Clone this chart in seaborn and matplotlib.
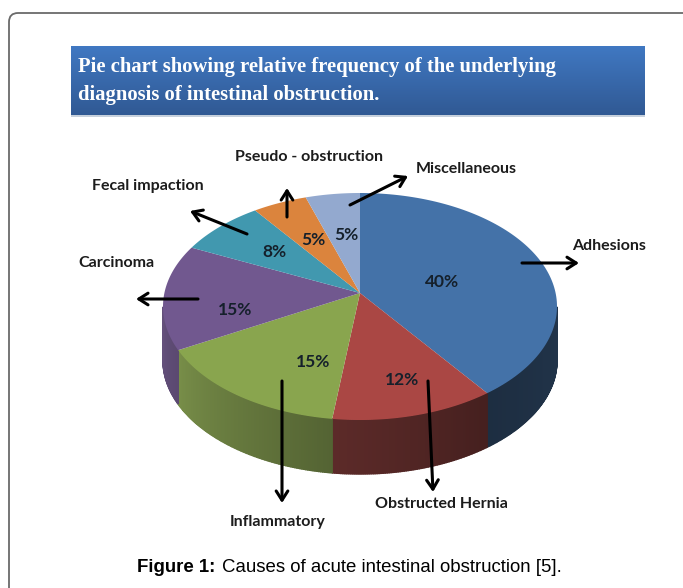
import numpy as np
import seaborn as sns
import matplotlib.pyplot as plt
from matplotlib.patches import FancyBboxPatch

# --- data ---
categories = ['Adhesions', 'Obstructed Hernia', 'Inflammatory', 'Carcinoma',
              'Fecal impaction', 'Pseudo - obstruction', 'Miscellaneous']
shares = [40, 12, 15, 15, 8, 5, 5]
slice_colors = ['#4472a8', '#aa4744', '#89a54e', '#71588f', '#4198af', '#db843d', '#93a9cf']

title_lines = ['Pie chart showing relative frequency of the underlying',
               'diagnosis of intestinal obstruction.']

# label positions in picture pixels
label_pos = [(609, 246), (441, 504), (278, 522), (116, 263), (148, 186), (309, 157), (466, 169)]
pct_pos = [(442, 282), (402, 380), (313, 362), (235, 310), (274, 252), (313, 240), (346, 235)]
arrow_from = [(522, 263), (428, 381), (282, 381), (198, 299), (247, 234), (287, 217), (350, 205)]
arrow_to = [(579, 263), (433, 492), (282, 503), (136, 299), (190, 211), (287, 188), (408, 176)]

# pie geometry, a tilted circle seen in perspective
cx, cy = 360, 293
rx, ry, persp = 195.6, 111.9, 0.119
depth = 54

sns.set_theme(style='white')
plt.rcParams['font.family'] = ['Lato', 'DejaVu Sans']

fig = plt.figure(figsize=(6.83, 5.88), dpi=100, facecolor='white')
ax = fig.add_axes([0, 0, 1, 1])


def rim(theta):
    # theta in degrees, clockwise from 12 o'clock
    t = np.radians(theta)
    w = 1 + persp * np.cos(t)
    return cx + rx * np.sin(t) / w, cy - ry * np.cos(t) / w


def side_shade(theta):
    return np.interp(theta, [97, 143.9, 144.1, 187.1, 187.3, 241, 241.2, 263],
                     [0.46, 0.40, 0.42, 0.56, 0.62, 0.88, 0.80, 0.88])


# frame of the page
ax.add_patch(FancyBboxPatch((9, 13), 720, 640, boxstyle='round,pad=0,rounding_size=9',
                            fc='white', ec='#6a6a6a', lw=1.3, zorder=1))

# title banner
grad = np.linspace(0, 1, 64).reshape(-1, 1, 1)
banner = (1 - grad) * np.array([0.25, 0.47, 0.76]) + grad * np.array([0.19, 0.35, 0.58])
ax.add_patch(plt.Rectangle((71, 49), 574, 68, fc='#c6d0dc', ec='none', zorder=1.5))
ax.imshow(banner, extent=(71, 645, 115, 46), aspect='auto', zorder=2)
for line, y in zip(title_lines, [67, 95]):
    ax.text(78, y, line, color='white', fontsize=14.9, fontweight='bold',
            family='Liberation Serif', va='center', ha='left', zorder=3)

# slices
edges = np.concatenate([[0], np.cumsum(shares)]) / np.sum(shares) * 360
for i, col in enumerate(slice_colors):
    a0, a1 = edges[i], edges[i + 1]

    # side wall, only the front part of the rim shows
    lo, hi = max(a0, 97), min(a1, 263)
    if lo < hi:
        steps = np.arange(lo, hi + 0.5, 0.5)
        steps[-1] = hi
        for s0, s1 in zip(steps[:-1], steps[1:]):
            x0, y0 = rim(s0)
            x1, y1 = rim(s1)
            shade = np.array(sns.desaturate(col, 0.9)) * side_shade((s0 + s1) / 2)
            ax.fill([x0, x1, x1, x0], [y0, y1, y1 + depth, y0 + depth],
                    color=shade, lw=1.0, zorder=4)

    # top face
    th = np.linspace(a0, a1, 120)
    xs, ys = rim(th)
    ax.fill(np.r_[cx, xs], np.r_[cy, ys], color=col, lw=0, zorder=5)

# labels, percentages and arrows
for name, share, lp, pp, a, b in zip(categories, shares, label_pos, pct_pos, arrow_from, arrow_to):
    ax.text(lp[0], lp[1], name, fontsize=11.5, fontweight='bold', color='#1c1c1c',
            ha='center', va='center', zorder=7)
    ax.text(pp[0], pp[1], f'{share}%', fontsize=12.5, fontweight='bold', color='#15202b',
            ha='center', va='center', zorder=7)
    ax.annotate('', xy=b, xytext=a, zorder=6,
                arrowprops=dict(arrowstyle='->,head_length=0.55,head_width=0.35', color='black',
                                lw=2.2, shrinkA=0, shrinkB=0))

# caption
ax.text(137, 567, 'Figure 1:', fontsize=13.4, fontweight='bold', family='Liberation Sans',
        color='black', ha='left', va='center', zorder=7)
ax.text(222, 567, 'Causes of acute intestinal obstruction [5].', fontsize=13.4,
        family='Liberation Sans', color='black', ha='left', va='center', zorder=7)

ax.set_xlim(0, 683)
ax.set_ylim(588, 0)
ax.axis('off')

plt.savefig('out.png', dpi=100)
